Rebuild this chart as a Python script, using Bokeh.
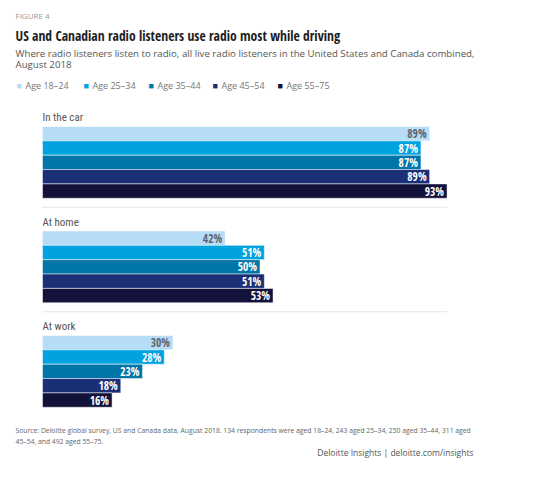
from bokeh.plotting import figure
from bokeh.models import ColumnDataSource, Range1d, Label
from bokeh.core.properties import value
from bokeh.embed import file_html
from bokeh.resources import INLINE

# ---- data ----
locations = ["In the car", "At home", "At work"]
age_groups = ["Age 18–24", "Age 25–34", "Age 35–44", "Age 45–54", "Age 55–75"]
age_18_24 = [89, 42, 30]
age_25_34 = [87, 51, 28]
age_35_44 = [87, 50, 23]
age_45_54 = [89, 51, 18]
age_55_75 = [93, 53, 16]
series = [age_18_24, age_25_34, age_35_44, age_45_54, age_55_75]
colors = ["#b7dcf6", "#00a3e0", "#0076a8", "#1b2f77", "#12123a"]
label_colors = ["#5d6470", "white", "white", "white", "white"]

W, H = 542, 464
PX_PER_PCT = 4.35
X0 = 42  # canvas px where 0% sits
COND = "Open Sans Condensed"
COND_LIGHT = "Roboto Condensed"
SANS = "Open Sans"

p = figure(width=W, height=H, output_backend="svg", toolbar_location=None,
           x_range=Range1d(-X0 / PX_PER_PCT, (W - X0) / PX_PER_PCT),
           y_range=Range1d(H, 0), min_border=0, outline_line_color=None)
p.axis.visible = False
p.grid.visible = False
p.background_fill_color = "white"
p.border_fill_color = "white"

first_top = 126
bar_h = 14.35
group_step = 104.5

xs, tops, bottoms, fills, vals, lcols = [], [], [], [], [], []
for g, loc in enumerate(locations):
    gtop = first_top + g * group_step
    for i, s in enumerate(series):
        t = gtop + i * bar_h
        tops.append(t)
        bottoms.append(t + bar_h)
        xs.append(s[g])
        fills.append(colors[i])
        lcols.append(label_colors[i])
        vals.append(f"{s[g]}%")

src = ColumnDataSource(dict(right=xs, top=tops, bottom=bottoms, fill=fills,
                            lab=vals, lcol=lcols,
                            ymid=[(a + b) / 2 for a, b in zip(tops, bottoms)]))
p.quad(left=0, right="right", top="top", bottom="bottom", fill_color="fill",
       line_color="white", line_width=0.5, source=src)
p.text(x="right", y="ymid", text="lab", text_color="lcol", source=src,
       text_align="right", text_baseline="middle", x_offset=-3,
       text_font=value(COND), text_font_style="bold", text_font_size="11.5px")

# group labels and separators
max_all = max(max(s) for s in series)
for g, loc in enumerate(locations):
    gtop = first_top + g * group_step
    p.text(x=[0], y=[gtop - 9], text=[loc], text_baseline="middle",
           text_font=value(COND_LIGHT), text_font_size="11px", text_color="#555555")
    if g < len(locations) - 1:
        ysep = gtop + 5 * bar_h + 9
        p.line(x=[0, max_all], y=[ysep, ysep], line_color="#cccccc",
               line_dash="1 1", line_width=1)

def lab(text, x, y, size, color, font=SANS, style="normal", align="left"):
    p.add_layout(Label(x=x, y=H - y, x_units="screen", y_units="screen", text=text,
                       text_font=font, text_font_size=size, text_color=color,
                       text_font_style=style, text_baseline="middle", text_align=align))

lab("FIGURE 4", 15, 15, "8px", "#9a9a9a")
lab("US and Canadian radio listeners use radio most while driving", 15, 35, "13.6px",
    "#1e1e1e", font=COND, style="bold")
lab("Where radio listeners listen to radio, all live radio listeners in the United States and Canada combined,",
    15, 53, "9.7px", "#555555")
lab("August 2018", 15, 63.5, "9.7px", "#555555")

# legend
leg_x = [16, 83, 148, 212, 277]
for i, a in enumerate(age_groups):
    p.add_layout(Label(x=leg_x[i], y=H - 85, x_units="screen", y_units="screen",
                       text="■", text_color=colors[i], text_font_size="9px",
                       text_baseline="middle"))
    lab(a, leg_x[i] + 9, 85, "9px", "#777777")

lab("Source: Deloitte global survey, US and Canada data, August 2018. 134 respondents were aged 18–24, 243 aged 25–34, 250 aged 35–44, 311 aged",
    15, 430, "6.8px", "#666666")
lab("45–54, and 492 aged 55–75.", 15, 441, "6.8px", "#666666")
lab("Deloitte Insights | deloitte.com/insights", 473, 452, "8.5px", "#555555", align="right")

open("out.html", "w").write(file_html(p, INLINE))
